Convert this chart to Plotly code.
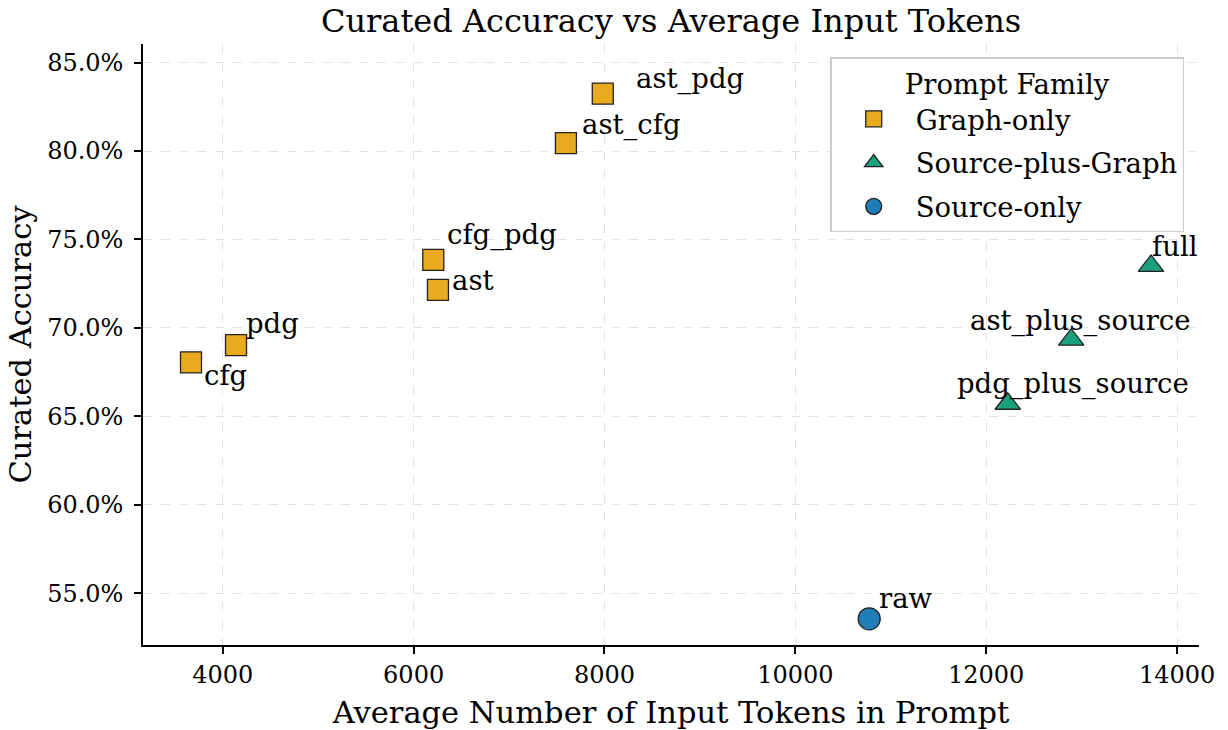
import plotly.graph_objects as go

# ---- data ----
names = ["cfg", "pdg", "cfg_pdg", "ast", "ast_cfg", "ast_pdg",
         "pdg_plus_source", "ast_plus_source", "full", "raw"]
avg_tokens = [3667, 4139, 6206, 6255, 7596, 7982, 12226, 12891, 13727, 10774]
curated_acc = [0.6805, 0.6903, 0.7385, 0.7215, 0.8044, 0.8324,
               0.6571, 0.6933, 0.7350, 0.5355]
family = ["Graph-only", "Graph-only", "Graph-only", "Graph-only", "Graph-only",
          "Graph-only", "Source-plus-Graph", "Source-plus-Graph",
          "Source-plus-Graph", "Source-only"]
family_order = ["Graph-only", "Source-plus-Graph", "Source-only"]
x_ticks = [4000, 6000, 8000, 10000, 12000, 14000]
y_ticks = [0.55, 0.60, 0.65, 0.70, 0.75, 0.80, 0.85]

# ---- styling ----
FONT = "DejaVu Serif"
fam_style = {
    "Graph-only": dict(symbol="square", color="#E8AA1E", size=21),
    "Source-plus-Graph": dict(symbol="triangle-up", color="#1AA07D", size=22),
    "Source-only": dict(symbol="circle", color="#1F7DB8", size=22),
}
# label placement: (pixel offset of text left edge, pixel offset of baseline; +down)
label_offset = {
    "cfg": (12.6, 22.3), "pdg": (10, -12), "cfg_pdg": (14, -15.7),
    "ast": (14, 0), "ast_cfg": (16.4, -9.3), "ast_pdg": (33, -5.4),
    "pdg_plus_source": (-50.5, -10.7), "ast_plus_source": (-101, -10),
    "full": (1, -10), "raw": (10, -11),
}
ANN_FS = 27.5

fig = go.Figure()
for fam in family_order:
    idx = [i for i, f in enumerate(family) if f == fam]
    st = fam_style[fam]
    fig.add_trace(go.Scatter(
        x=[avg_tokens[i] for i in idx],
        y=[curated_acc[i] for i in idx],
        mode="markers",
        name=fam,
        legendgroup=fam,
        marker=dict(symbol=st["symbol"], color=st["color"], size=st["size"],
                    line=dict(color="#222222", width=1.3)),
        hovertext=[names[i] for i in idx],
    ))

for i, n in enumerate(names):
    dx, dy = label_offset[n]
    fig.add_annotation(
        x=avg_tokens[i], y=curated_acc[i], text=n, showarrow=False,
        xanchor="left", yanchor="middle",
        xshift=dx - 2, yshift=0.35 * ANN_FS - dy,
        font=dict(family=FONT, size=ANN_FS, color="black"),
    )

axis_common = dict(
    showline=True, linecolor="black", linewidth=1.6, mirror=False,
    ticks="outside", ticklen=7, tickwidth=1.5, tickcolor="black",
    showgrid=True, gridcolor="#e3e3e3", griddash="dash", gridwidth=1,
    zeroline=False, automargin=False,
    tickfont=dict(family=FONT, size=24, color="black"),
)

fig.update_layout(
    width=1228, height=730,
    margin=dict(l=143, r=29, t=44, b=85),
    paper_bgcolor="white", plot_bgcolor="white",
    font=dict(family=FONT, color="black"),
    title=dict(text="Curated Accuracy vs Average Input Tokens",
               font=dict(family=FONT, size=32, color="black"),
               x=0.5465, xanchor="center", y=1 - 21 / 730, yanchor="middle",
               xref="container", yref="container"),
    xaxis=dict(**axis_common, range=[3164, 14230], tickvals=x_ticks,
               tickformat="d",
               title=dict(text="Average Number of Input Tokens in Prompt",
                          font=dict(family=FONT, size=30.5, color="black"),
                          standoff=14)),
    yaxis=dict(**axis_common, range=[0.5207, 0.8605], tickvals=y_ticks,
               tickformat=".1%", ticklabelstandoff=6,
               title=dict(text="Curated Accuracy",
                          font=dict(family=FONT, size=30.5, color="black"),
                          standoff=6)),
    legend=dict(
        x=0.986, y=0.978, xanchor="right", yanchor="top",
        bgcolor="white", bordercolor="#cccccc", borderwidth=1.5,
        font=dict(family=FONT, size=27.5, color="black"),
        title=dict(text="Prompt Family", side="top center",
                   font=dict(family=FONT, size=27.5, color="black")),
        tracegroupgap=5, itemwidth=74,
    ),
)

fig.write_html("out.html",
               config={"displayModeBar": False},
               post_script="document.body.style.margin='0';")
